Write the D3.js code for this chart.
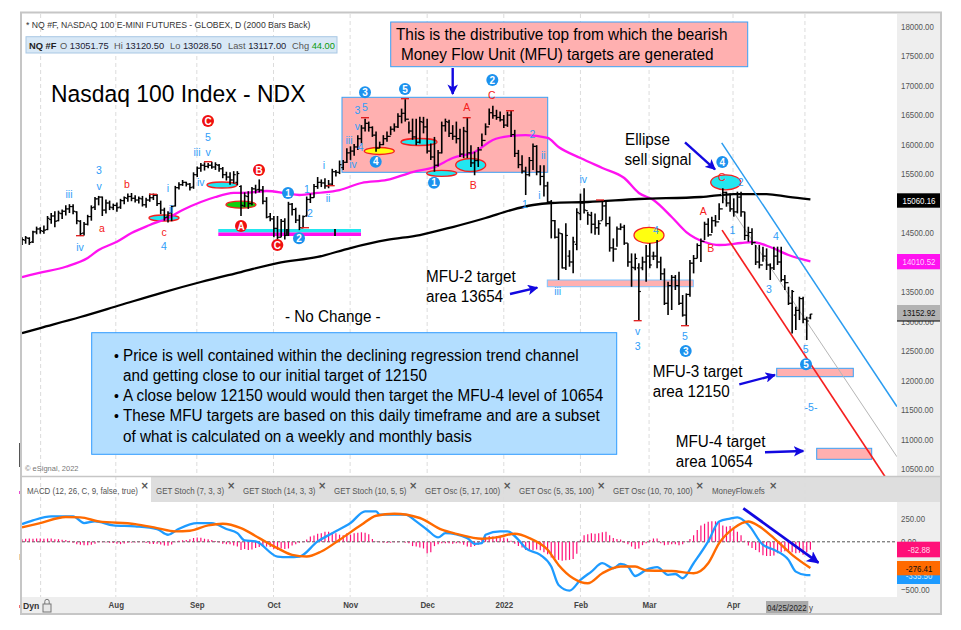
<!DOCTYPE html>
<html>
<head>
<meta charset="utf-8">
<script src="https://cdnjs.cloudflare.com/ajax/libs/d3/7.8.5/d3.min.js"></script>
<style>
  html, body { margin: 0; padding: 0; background: #fff; }
  svg { display: block; font-family: "Liberation Sans", Arial, sans-serif; }
</style>
</head>
<body>
<script>
// daily bars, one value per session
var highs = [
  14420,14440,14420,14530,14600,14590,14620,14780,14830,14860,
  14870,14890,14960,14980,14980,14860,14710,14680,14800,14960,
  15100,15120,15110,15060,15040,14990,15010,15070,15110,15160,
  15170,15130,15110,15120,15090,15160,15160,15150,15040,14920,
  14860,14960,15290,15350,15390,15360,15340,15520,15620,15680,
  15690,15680,15700,15690,15660,15610,15530,15520,15540,15540,
  15300,15180,15200,15270,15310,15400,15290,15100,14830,14780,
  14780,14730,14740,15020,15000,14920,14800,14790,15110,15160,
  15320,15440,15400,15420,15390,15580,15560,15720,15730,15930,
  15960,16000,16150,16320,16430,16380,16300,16210,16040,16150,
  16210,16300,16350,16520,16600,16760,16380,16430,16430,16460,
  16460,16430,16010,16120,15900,16380,16430,16410,16320,16380,
  16260,16290,16450,15980,15870,15950,16180,16350,16600,16650,
  16580,16550,16490,16550,16560,16240,15900,15810,15615,15780,
  16010,15980,15640,15640,15360,15050,14710,14570,14485,14655,
  14200,14430,14910,15160,15250,14850,14850,14820,14710,15050,
  15050,14770,14400,14600,14655,14630,14316,14146,14146,13977,
  14090,14288,14316,14175,14372,14090,13892,13666,13779,13779,
  13836,13440,13468,14033,14118,14316,14400,14683,14740,14768,
  14796,14994,15248,15192,15163,15079,15192,15192,14853,14598,
  14570,14288,14288,14260,14231,13977,14260,14260,14260,13779,
  13581,13525,13242,13412,13412,13073,13120.5
];
var lows = [
  14290,14310,14290,14320,14470,14480,14480,14540,14650,14590,
  14690,14730,14790,14830,14810,14640,14440,14450,14620,14700,
  14880,14960,14780,14820,14880,14880,14850,14900,14980,15020,
  15030,15010,14990,14940,14920,15020,15050,14950,14810,14700,
  14670,14690,14940,15230,15290,15280,15210,15240,15440,15530,
  15550,15590,15580,15560,15530,15420,15380,15310,15330,15300,
  14780,14930,14900,14960,15160,15180,14980,14740,14690,14420,
  14340,14420,14380,14440,14790,14660,14540,14570,14770,15000,
  15090,15240,15270,15240,15250,15290,15450,15490,15560,15680,
  15730,15800,15900,16010,16210,16210,16120,15870,15930,15980,
  16040,16150,16210,16270,16350,16380,16180,16070,15980,16010,
  16180,15840,15730,15530,15620,15840,16210,16120,16070,16010,
  15780,15760,15760,15610,15470,15610,15960,16150,16320,16430,
  16410,16380,16270,16290,16120,15780,15590,15500,15135,15450,
  15560,15470,15300,15110,15000,14400,14400,13695,13890,13865,
  13920,13810,14200,14710,14820,14630,14485,14460,14460,14710,
  14600,14175,14005,14260,14540,14290,13920,13580,13860,13016,
  13860,13666,13892,14033,13892,13695,13271,13101,13186,13525,
  13271,13073,12932,13412,13807,14062,14000,14372,14430,14490,
  14600,14711,14994,14937,14853,14768,14824,14768,14372,14344,
  14288,13949,13892,14005,13864,13695,13864,13949,13666,13525,
  13271,12790,12847,13016,12960,12677,13028.5
];
var opens = [
  14310,14370,14400,14340,14510,14560,14520,14550,14720,14780,
  14700,14820,14860,14900,14940,14850,14690,14490,14640,14770,
  14930,15070,15100,14880,15000,14920,14960,14930,15040,15080,
  15110,15080,15050,15070,14970,15050,15090,15130,14990,14880,
  14760,14830,14950,15260,15310,15350,15320,15270,15480,15590,
  15640,15620,15640,15610,15640,15580,15480,15440,15390,15350,
  15280,14950,15110,14990,15240,15230,15220,15030,14770,14730,
  14570,14420,14690,14450,14980,14890,14710,14580,14780,15060,
  15090,15280,15350,15340,15290,15320,15530,15520,15600,15690,
  15850,15880,15950,16090,16270,16350,16280,16150,15930,15990,
  16090,16130,16250,16290,16470,16520,16420,16220,16120,16030,
  16370,16290,15880,15780,15640,15850,16310,16370,16180,16130,
  16090,15830,16210,15850,15680,15720,15900,16060,16290,16530,
  16480,16450,16410,16320,16490,16160,15840,15650,15540,15480,
  15720,15960,15530,15450,15290,15020,14700,14420,14480,13900,
  14100,14000,14300,14820,15000,14870,14790,14640,14580,14700,
  14950,14650,14240,14220,14560,14590,14320,14000,13900,13900,
  13900,14000,14100,14100,14100,14000,13800,13300,13600,13740,
  13600,13300,13100,13450,13980,14060,14280,14350,14640,14460,
  14700,14680,14900,15180,15000,14900,14850,15100,14850,14450,
  14500,14330,14000,13950,14100,13950,13900,14100,14000,13700,
  13650,13300,13100,13180,13380,13030,13051.75
];
var closes = [
  14380,14410,14330,14510,14560,14530,14540,14740,14780,14690,
  14830,14860,14900,14940,14860,14700,14480,14640,14770,14920,
  15070,15100,14880,15000,14930,14960,14920,15040,15090,15110,
  15080,15050,15080,14970,15050,15090,15130,14990,14880,14750,
  14830,14940,15260,15310,15350,15320,15260,15480,15590,15640,
  15620,15640,15610,15650,15580,15480,15440,15390,15480,15500,
  14960,15120,14990,15240,15220,15220,15030,14760,14730,14570,
  14420,14690,14450,14980,14890,14710,14580,14770,15060,15090,
  15280,15350,15340,15290,15320,15530,15520,15650,15690,15850,
  15880,15950,16090,16270,16350,16280,16150,15930,15990,16090,
  16130,16250,16290,16470,16520,16420,16220,16120,16030,16380,
  16290,15880,15780,15640,15850,16310,16380,16180,16130,16090,
  15830,16220,15850,15680,15720,15900,16060,16290,16530,16480,
  16450,16410,16320,16490,16160,15840,15650,15540,15480,15720,
  15960,15530,15450,15290,15020,14700,14420,14490,13900,14450,
  14000,14340,14840,15000,14880,14800,14640,14580,14650,14950,
  14650,14240,14220,14560,14590,14320,14000,13910,14060,13500,
  14000,14100,13950,14100,14000,13800,13300,13600,13740,13600,
  13300,13100,13450,13980,14060,14280,14350,14640,14460,14700,
  14680,14900,15180,15000,14900,14850,15100,14850,14450,14500,
  14330,14000,13950,14100,13950,13900,14100,14000,13700,13650,
  13300,13500,13180,13380,13030,13000,13117
];

// moving averages, bar number and value as read
var ma50Bars = [0,5,12,18,21,26,30,35,40,44,49,53,58,62,67,72,76,81,87,93,100,107,113,118,124,129,134,138,144,147,153,159,165,169,173,178,182,187,191,197,200,205,210,216];
var ma50 = [13745,13818,13920,14068,14203,14344,14491,14627,14746,14881,15017,15102,15170,15175,15203,15170,15136,15170,15220,15339,15390,15525,15610,15763,15864,16068,16136,16152,16102,15949,15763,15593,15424,15170,15051,14763,14508,14339,14288,14322,14339,14254,14118,14010];
var ma200Bars = [0,5,16,27,38,49,60,70,81,90,100,109,118,127,134,140,145,155,169,186,195,204,210,216];
var ma200 = [12796,12881,13068,13271,13474,13661,13830,13983,14085,14237,14373,14457,14593,14746,14881,14966,15000,15017,15068,15102,15152,15152,15102,15060];

// MACD panel
var macdBars = [0,3,8,14,17,20,25,31,37,40,43,48,52,56,59,61,64,70,73,76,81,85,90,94,97,98,105,108,111,114,116,122,124,126,127,131,133,136,138,142,145,147,150,153,156,159,162,164,166,168,171,174,177,179,181,184,188,191,194,196,199,203,206,210,212,215,216];
var macd = [186,225,267,267,197,214,172,162,134,74,137,197,197,134,91,14,4,-155,-162,-155,4,91,197,320,320,285,285,214,127,46,91,39,-21,-14,74,109,109,21,-67,-137,-260,-454,-513,-401,-313,-225,-278,-232,-260,-359,-295,-267,-348,-338,-383,-225,4,214,243,257,179,-32,-84,-190,-313,-350,-350];
var signalBars = [0,5,12,16,21,31,37,42,46,51,55,60,65,70,74,78,82,87,93,97,102,109,115,119,126,130,135,139,144,147,151,155,159,164,168,171,178,184,188,191,195,199,202,206,211,216];
var signal = [151,197,260,257,214,186,144,109,116,172,190,144,39,-67,-137,-155,-102,21,179,274,295,250,127,84,32,46,84,39,-84,-243,-383,-436,-330,-260,-260,-302,-306,-330,-225,-14,144,214,162,39,-137,-276];
var histogram = [
  28,32,35,32,35,35,32,35,35,28,28,21,18,10,
  -10,-25,-32,-35,-35,-30,-20,-5,-5,-8,-10,-12,
  -20,-25,-18,-10,-8,-8,-5,-5,-12,-20,-22,-20,-28,-38,-42,-28,
  -5,10,15,20,28,40,45,42,32,28,20,8,
  -8,-20,-25,-25,-38,-50,-85,-75,-85,-80,-65,-55,-40,-50,-55,-75,-85,
  -70,-75,-70,-40,-25,-10,-5,
  25,55,65,85,90,105,105,100,90,75,70,90,75,90,95,100,95,80,30,
  5,-5,-8,-12,-10,-5,-5,0,-10,-15,
  -45,-50,-60,-70,-120,-110,-45,-25,
  -15,-15,-15,-20,-15,-15,-30,-50,-55,-45,-30,
  30,55,60,55,60,55,45,35,10,
  -20,-45,-60,-85,-85,-90,-80,-90,-110,-130,-165,-175,-190,-200,-195,-190,-180,-125,
  20,70,80,90,85,90,100,105,70,40,30,25,
  -10,-25,-50,-75,-70,-35,-15,20,35,35,
  -15,-35,-30,-25,-25,-35,-25,5,
  30,70,125,170,190,210,215,215,205,170,160,165,135,105,70,10,
  -40,-65,-85,-110,-140,-150,-150,-145,-120,-110,-100,-100,-110,-120,-115,-135,-110,-83
];

// axes
var priceTicks = [18000,17500,17000,16500,16000,15500,14500,13500,13000,12500,12000,11500,11000,10500];
var macdTicks = [250,0,-500];
var monthBars = [25.7,47.9,68.9,89.9,111,132,153,171.8,194.8];
var monthNames = ["Aug","Sep","Oct","Nov","Dec","2022","Feb","Mar","Apr"];
var gridBars = [5.1,25.7,47.9,68.9,89.9,111,132,153,171.8,194.8,214.5];

// text
var tabNames = ["MACD (12, 26, C, 9, false, true)","GET Stoch (7, 3, 3)","GET Stoch (14, 3, 3)","GET Stoch (10, 5, 5)","GET Osc (5, 17, 100)","GET Osc (5, 35, 100)","GET Osc (10, 70, 100)","MoneyFlow.efs"];
var noteLines = [
  "Price is well contained within the declining regression trend channel",
  "and getting close to our initial target of 12150",
  "A close below 12150 would would then target the MFU-4 level of 10654",
  "These MFU targets are based on this daily timeframe and are a subset",
  "of what is calculated on a weekly and monthly basis"
];

var width = 961;
var height = 630;
var blue = "#2f9df8";
var red = "#f52020";
var arrowBlue = "#1208e0";
var pinkFill = "#ffb0b0";

var x = d3.scaleLinear().domain([0,216]).range([22,810.4]);
var y = d3.scaleLinear().domain([18000,10500]).range([26,468.5]);
var yMacd = d3.scaleLinear().domain([250,-500]).range([518,589.4]);

var svg = d3.select("body").append("svg")
  .attr("width", width)
  .attr("height", height);

svg.append("defs").append("clipPath").attr("id","pricePane")
  .append("rect").attr("x",22).attr("y",14).attr("width",875).attr("height",462);

svg.append("defs").append("marker").attr("id","head")
  .attr("viewBox","0 0 10 10").attr("refX",9).attr("refY",5)
  .attr("markerWidth",4.4).attr("markerHeight",4.4).attr("orient","auto")
  .append("path").attr("d","M0,0L10,5L0,10L2.5,5Z").attr("fill",arrowBlue);

// frame and panel backgrounds
svg.append("rect").attr("x",0).attr("y",0).attr("width",width).attr("height",height).attr("fill","#fff");
svg.append("rect").attr("x",897).attr("y",14).attr("width",44).attr("height",584).attr("fill","#eeeeee");
svg.append("rect").attr("x",22).attr("y",597).attr("width",919).attr("height",17).attr("fill","#eeeeee");
svg.append("rect").attr("x",22).attr("y",477).attr("width",919).attr("height",25).attr("fill","#dedede");
svg.append("rect").attr("x",22).attr("y",477).attr("width",129).attr("height",25).attr("fill","#fff");

// little marks left of the frame
[[443,24,"#555"],[491,3,"#e850d0"],[554,6,"#f0d0a0"],[605,3,"#f07070"]].forEach(function(m){
  svg.append("rect").attr("x",19).attr("y",m[0]).attr("width",2).attr("height",m[1]).attr("fill",m[2]);
});

svg.append("g").selectAll("line")
  .data(gridBars).enter().append("line")
  .attr("x1",function(d){return x(d);}).attr("x2",function(d){return x(d);})
  .attr("y1",14).attr("y2",597)
  .attr("stroke","#dcdcdc").attr("stroke-dasharray","4,3");

// target areas sit under the bars
function box(x1,y1,x2,y2,fill,stroke,sw){
  svg.append("rect").attr("x",x1).attr("y",y1).attr("width",x2-x1).attr("height",y2-y1)
    .attr("fill",fill).attr("stroke",stroke).attr("stroke-width",sw);
}
box(342,97.3,547.7,172.3,pinkFill,"#3aa0f5",1);
svg.append("rect").attr("x",218.3).attr("y",229).attr("width",142.7).attr("height",3.5).attr("fill","#22e6f0");
svg.append("rect").attr("x",218.3).attr("y",232.5).attr("width",142.7).attr("height",3.5).attr("fill","#ff10f0");
box(547.3,280,693.3,286.7,pinkFill,"#7cc4ff",1);
box(776.7,368.3,853.3,376.7,pinkFill,"#3aa0f5",1);
box(816.7,448.3,871.7,459.3,pinkFill,"#3aa0f5",1);

function ellipse(cx,cy,rx,ry,fill){
  svg.append("ellipse").attr("cx",cx).attr("cy",cy).attr("rx",rx).attr("ry",ry)
    .attr("fill",fill).attr("stroke",red).attr("stroke-width",1.3);
}
ellipse(164,218,15,3,"#22e6f0");
ellipse(222,185,15,3,"#22e6f0");
ellipse(241,204.7,15,3.5,"#10d010");
ellipse(379.3,151,15,3.5,"#ffff10");
ellipse(419,142,18,3.5,"#22e6f0");
ellipse(441.7,173.3,15,3,"#22e6f0");
ellipse(470.7,165,15,6.5,"#22e6f0");
ellipse(725.7,182.3,15,7.5,"#22e6f0");
ellipse(649,235.3,15,8,"#ffff10");

// moving averages
function maLine(bars,values){
  return d3.line()
    .x(function(d,i){return x(bars[i]);})
    .y(function(d){return y(d);})
    .curve(d3.curveMonotoneX)(values);
}
svg.append("path").attr("d",maLine(ma50Bars,ma50)).attr("fill","none").attr("stroke","#ff12f0").attr("stroke-width",2.3);
svg.append("path").attr("d",maLine(ma200Bars,ma200)).attr("fill","none").attr("stroke","#000").attr("stroke-width",2.3);

// trend channel, ends read as bar number and price
var channel = svg.append("g").attr("clip-path","url(#pricePane)");
function channelLine(b1,p1,b2,p2,color,sw){
  channel.append("line").attr("x1",x(b1)).attr("y1",y(p1)).attr("x2",x(b2)).attr("y2",y(p2))
    .attr("stroke",color).attr("stroke-width",sw);
}
channelLine(191.7,16020,239.7,11550,"#2a9cf0",1.5);
channelLine(191.3,15180,239.7,10700,"#b5b5b5",1);
channelLine(191.8,14540,236.5,10358,red,1.7);

// price bars
var bars = svg.append("g").selectAll("g")
  .data(closes).enter().append("g")
  .attr("stroke","#000");
bars.append("line")
  .attr("x1",function(d,i){return x(i);}).attr("x2",function(d,i){return x(i);})
  .attr("y1",function(d,i){return y(highs[i]);}).attr("y2",function(d,i){return y(lows[i]);})
  .attr("stroke-width",1.6);
bars.append("line")
  .attr("x1",function(d,i){return x(i)-2;}).attr("x2",function(d,i){return x(i);})
  .attr("y1",function(d,i){return y(opens[i]);}).attr("y2",function(d,i){return y(opens[i]);})
  .attr("stroke-width",1.2);
bars.append("line")
  .attr("x1",function(d,i){return x(i);}).attr("x2",function(d,i){return x(i)+2;})
  .attr("y1",function(d){return y(d);}).attr("y2",function(d){return y(d);})
  .attr("stroke-width",1.2);

// black ticks on the magenta and cyan band
[287,335].forEach(function(px){
  svg.append("rect").attr("x",px-1).attr("y",229).attr("width",2).attr("height",7).attr("fill","#111");
});

// red caps at the swing highs and lows
[[80,235.7],[208,161.7],[305,227.7],[330.7,185.7],[365,117.7],[405,98.7],[466.7,117.7],[510,110.7],[600,200],[637.7,320.7],[685,325.7],[153,194.3]].forEach(function(c){
  svg.append("line").attr("x1",c[0]-4).attr("x2",c[0]+4).attr("y1",c[1]).attr("y2",c[1])
    .attr("stroke","#e01818").attr("stroke-width",1.3);
});

// wave labels
function wave(t,px,py,color){
  svg.append("text").attr("x",px).attr("y",py).attr("dy","0.35em").attr("text-anchor","middle")
    .attr("font-size",10.5).attr("fill",color).text(t);
}
[["3",99,170],["v",99,186],["iii",69,194],["iv",80,247],["iii",197,152],["v",208,152],["5",208,137],
 ["iv",200.7,182],["i",168,188],["ii",171,209],["4",164,246],["1",307,189],["2",310,213],["i",324,165],
 ["ii",328,198],["3",357.3,110],["5",365,107],["v",357.3,126.7],["iii",349,140],["iv",353,164],["4",360.7,147],
 ["2",532.3,134],["ii",543.3,155],["i",539.3,195.7],["1",525,204],["iv",583.3,179.3],["2",740.7,182.3],
 ["1",732.3,230.7],["4",656,230],["4",776,236],["iii",557.7,291.7],["v",637.7,331.7],["3",637.7,346],
 ["5",685,336],["3",769,289.3],["5",805.7,349.3],["-5-",811,407.7]].forEach(function(l){wave(l[0],l[1],l[2],blue);});
[["b",127,184],["a",102,228],["c",164,232],["A",466.7,107.7],["C",491.7,95.7],["B",473.3,185.7],
 ["A",703.3,211.7],["C",721.7,177.7],["B",710.7,248.3]].forEach(function(l){wave(l[0],l[1],l[2],red);});

function dot(t,px,py,color){
  svg.append("circle").attr("cx",px).attr("cy",py).attr("r",6).attr("fill",color);
  svg.append("text").attr("x",px).attr("y",py).attr("dy","0.36em").attr("text-anchor","middle")
    .attr("font-size",10).attr("font-weight","bold").attr("fill","#fff").text(t);
}
[["C",208,121],["A",241,226],["B",259,170],["C",277.3,245]].forEach(function(l){dot(l[0],l[1],l[2],"#f01010");});
[["1",288,193],["2",299,238.3],["3",365,92.3],["5",405,89],["4",375.7,161.7],["2",492.3,80],["1",434,182.7],
 ["4",722.3,162],["3",685.7,351],["5",806,364.3]].forEach(function(l){dot(l[0],l[1],l[2],"#1c92ee");});

// blue arrows
function arrow(x1,y1,x2,y2,sw){
  svg.append("line").attr("x1",x1).attr("y1",y1).attr("x2",x2).attr("y2",y2)
    .attr("stroke",arrowBlue).attr("stroke-width",sw).attr("marker-end","url(#head)");
}
arrow(452.7,68,452.7,94,2.4);
arrow(685,142.3,715,169.3,2.4);
arrow(510,294,537.3,287.7,2.4);
arrow(739.3,384.3,775,375,2.4);
arrow(765,452.3,803.3,451,2.4);

// text annotations
function say(t,px,py,size,color,extra){
  var el = svg.append("text").attr("x",px).attr("y",py).attr("font-size",size).attr("fill",color).text(t);
  if(extra){ el.attr("font-weight",extra); }
  return el;
}
say("* NQ #F, NASDAQ 100 E-MINI FUTURES - GLOBEX, D (2000 Bars Back)",26,28,9.5,"#333");
box(26,36.7,337,53,"#d8e8f6","#a9c8e4",1);
var info = svg.append("text").attr("x",29).attr("y",48.5).attr("font-size",9.3).attr("fill","#555");
info.append("tspan").attr("font-weight","bold").attr("fill","#222").text("NQ #F");
info.append("tspan").attr("x",60).text("O ");
info.append("tspan").attr("fill","#223").text("13051.75");
info.append("tspan").attr("x",114).text("Hi ");
info.append("tspan").attr("fill","#223").text("13120.50");
info.append("tspan").attr("x",170).text("Lo ");
info.append("tspan").attr("fill","#223").text("13028.50");
info.append("tspan").attr("x",228).text("Last ");
info.append("tspan").attr("fill","#223").text("13117.00");
info.append("tspan").attr("x",292).text("Chg ");
info.append("tspan").attr("fill","#0a9a0a").text("44.00");

say("Nasdaq 100 Index - NDX",51,102,24.5,"#000");

box(390.7,22,747.7,66.7,pinkFill,"#3aa0f5",1);
say("This is the distributive top from which the bearish",396,39.5,16.5,"#000");
say("Money Flow Unit (MFU) targets are generated",401,59.5,16.5,"#000");
say("Ellipse",625,145,16,"#000");
say("sell signal",624.5,165,16,"#000");
say("MFU-2 target",426,282,16,"#000");
say("area 13654",426,302,16,"#000");
say("- No Change -",285,322,16,"#000");
say("MFU-3 target",652.7,376.7,16,"#000");
say("area 12150",652.7,396.7,16,"#000");
say("MFU-4 target",675.7,447.3,16,"#000");
say("area 10654",675.7,467.3,16,"#000");
say("© eSignal, 2022",25,471,7.5,"#777");

// note box
box(91.7,332.7,616.7,454.3,"#b3deff","#2f9bff",1);
svg.append("g").selectAll("text")
  .data(noteLines).enter().append("text")
  .attr("x",123).attr("y",function(d,i){return 360.7+i*20.2;})
  .attr("font-size",16).attr("fill","#000")
  .text(function(d){return d;});
[360.7,401.1,421.3].forEach(function(py){
  say("•",114,py,14,"#000");
});

// MACD pane
svg.append("line").attr("x1",22).attr("x2",897).attr("y1",yMacd(0)).attr("y2",yMacd(0))
  .attr("stroke","#555").attr("stroke-dasharray","3,2");
svg.append("g").selectAll("line")
  .data(histogram).enter().append("line")
  .attr("x1",function(d,i){return x(i);}).attr("x2",function(d,i){return x(i);})
  .attr("y1",yMacd(0)).attr("y2",function(d){return yMacd(d);})
  .attr("stroke","#ff1078").attr("stroke-width",1.2);

function paneLine(barsList,values){
  return d3.line()
    .x(function(d,i){return x(barsList[i]);})
    .y(function(d){return yMacd(d);})
    .curve(d3.curveMonotoneX)(values);
}
svg.append("path").attr("d",paneLine(macdBars,macd)).attr("fill","none").attr("stroke","#1e9bff").attr("stroke-width",2.3);
svg.append("path").attr("d",paneLine(signalBars,signal)).attr("fill","none").attr("stroke","#ff6a00").attr("stroke-width",2.4);
arrow(743.3,508.3,818.3,562.7,2.8);

// tabs
var tabX = [27,156,243,334,425,519,613,712];
var closeX = [144.7,231.3,322.3,413.3,507.3,601.3,699.7,773.3];
svg.append("g").selectAll("text")
  .data(tabNames).enter().append("text")
  .attr("x",function(d,i){return tabX[i];}).attr("y",494)
  .attr("font-size",9).attr("fill","#555")
  .text(function(d){return d;});
svg.append("g").selectAll("text")
  .data(closeX).enter().append("text")
  .attr("x",function(d){return d;}).attr("y",488.5).attr("text-anchor","middle")
  .attr("font-size",10).attr("font-weight","bold").attr("fill","#555")
  .attr("font-family","DejaVu Sans")
  .text("×");

// right axes
var priceAxis = d3.axisRight(y).tickValues(priceTicks).tickSize(0).tickPadding(4).tickFormat(d3.format(".2f"));
var macdAxis = d3.axisRight(yMacd).tickValues(macdTicks).tickSize(0).tickPadding(4).tickFormat(d3.format(".2f"));
[[priceAxis],[macdAxis]].forEach(function(a){
  var g = svg.append("g").attr("transform","translate(897,0)").call(a[0]);
  g.select(".domain").remove();
  g.selectAll("text").attr("font-size",9.4).attr("fill","#555").attr("font-family","Liberation Sans");
});

function priceTag(t,y1,y2,fill,color){
  svg.append("rect").attr("x",897).attr("y",y1).attr("width",44).attr("height",y2-y1).attr("fill",fill);
  svg.append("text").attr("x",919).attr("y",(y1+y2)/2).attr("dy","0.36em").attr("text-anchor","middle")
    .attr("font-size",9.4).attr("fill",color).text(t);
}
priceTag("15060.16",193.3,207.7,"#000","#fff");
priceTag("14010.52",254,269.3,"#ff12f0","#ffd0ff");
priceTag("13152.92",305,321,"#b2b2b2","#111");
svg.append("line").attr("x1",897).attr("x2",941).attr("y1",321).attr("y2",321).attr("stroke","#000");
priceTag("-335.50",568,584,"#1e9bff","#d0ecff");
priceTag("-82.88",541.7,557.3,"#ff1078","#ffd8e8");
priceTag("-276.41",561,575.3,"#ff6a00","#111");

// bottom time axis
var timeAxis = d3.axisBottom(x).tickValues(monthBars).tickSize(0).tickPadding(4)
  .tickFormat(function(d,i){return monthNames[i];});
var timeG = svg.append("g").attr("transform","translate(0,598)").call(timeAxis);
timeG.select(".domain").remove();
timeG.selectAll("text").attr("font-size",9).attr("font-weight","bold").attr("fill","#444").attr("font-family","Liberation Sans");
say("Dyn",23,609,9.5,"#333","bold");
svg.append("rect").attr("x",43).attr("y",604).attr("width",8).attr("height",8).attr("fill","#e8e8e8").attr("stroke","#777");
svg.append("path").attr("d","M44.8,604V601.5a2.2,2.2 0 0 1 4.4,0V604").attr("fill","none").attr("stroke","#777");
svg.append("rect").attr("x",766).attr("y",601).attr("width",42.3).attr("height",13).attr("fill","#aaaaaa");
say("04/25/2022",767,611,9,"#222");
say("y",809,611,9,"#444");

// frame on top
svg.append("rect").attr("x",21).attr("y",12.5).attr("width",920).attr("height",601.5)
  .attr("fill","none").attr("stroke","#c6c6c6").attr("stroke-width",2);
svg.append("line").attr("x1",22).attr("x2",941).attr("y1",476.5).attr("y2",476.5).attr("stroke","#c6c6c6").attr("stroke-width",1.5);

// the reference type is tall and narrow, so squeeze it by font size
var squeeze = {"24.5":0.934,"16.5":0.929,"16":0.952,"9.5":0.91,"9.4":0.84,"9":0.88};
svg.selectAll("text").each(function(){
  var k = squeeze[this.getAttribute("font-size")];
  if(k){
    this.setAttribute("textLength", this.getComputedTextLength()*k);
    this.setAttribute("lengthAdjust","spacingAndGlyphs");
  }
});
</script>
</body>
</html>
